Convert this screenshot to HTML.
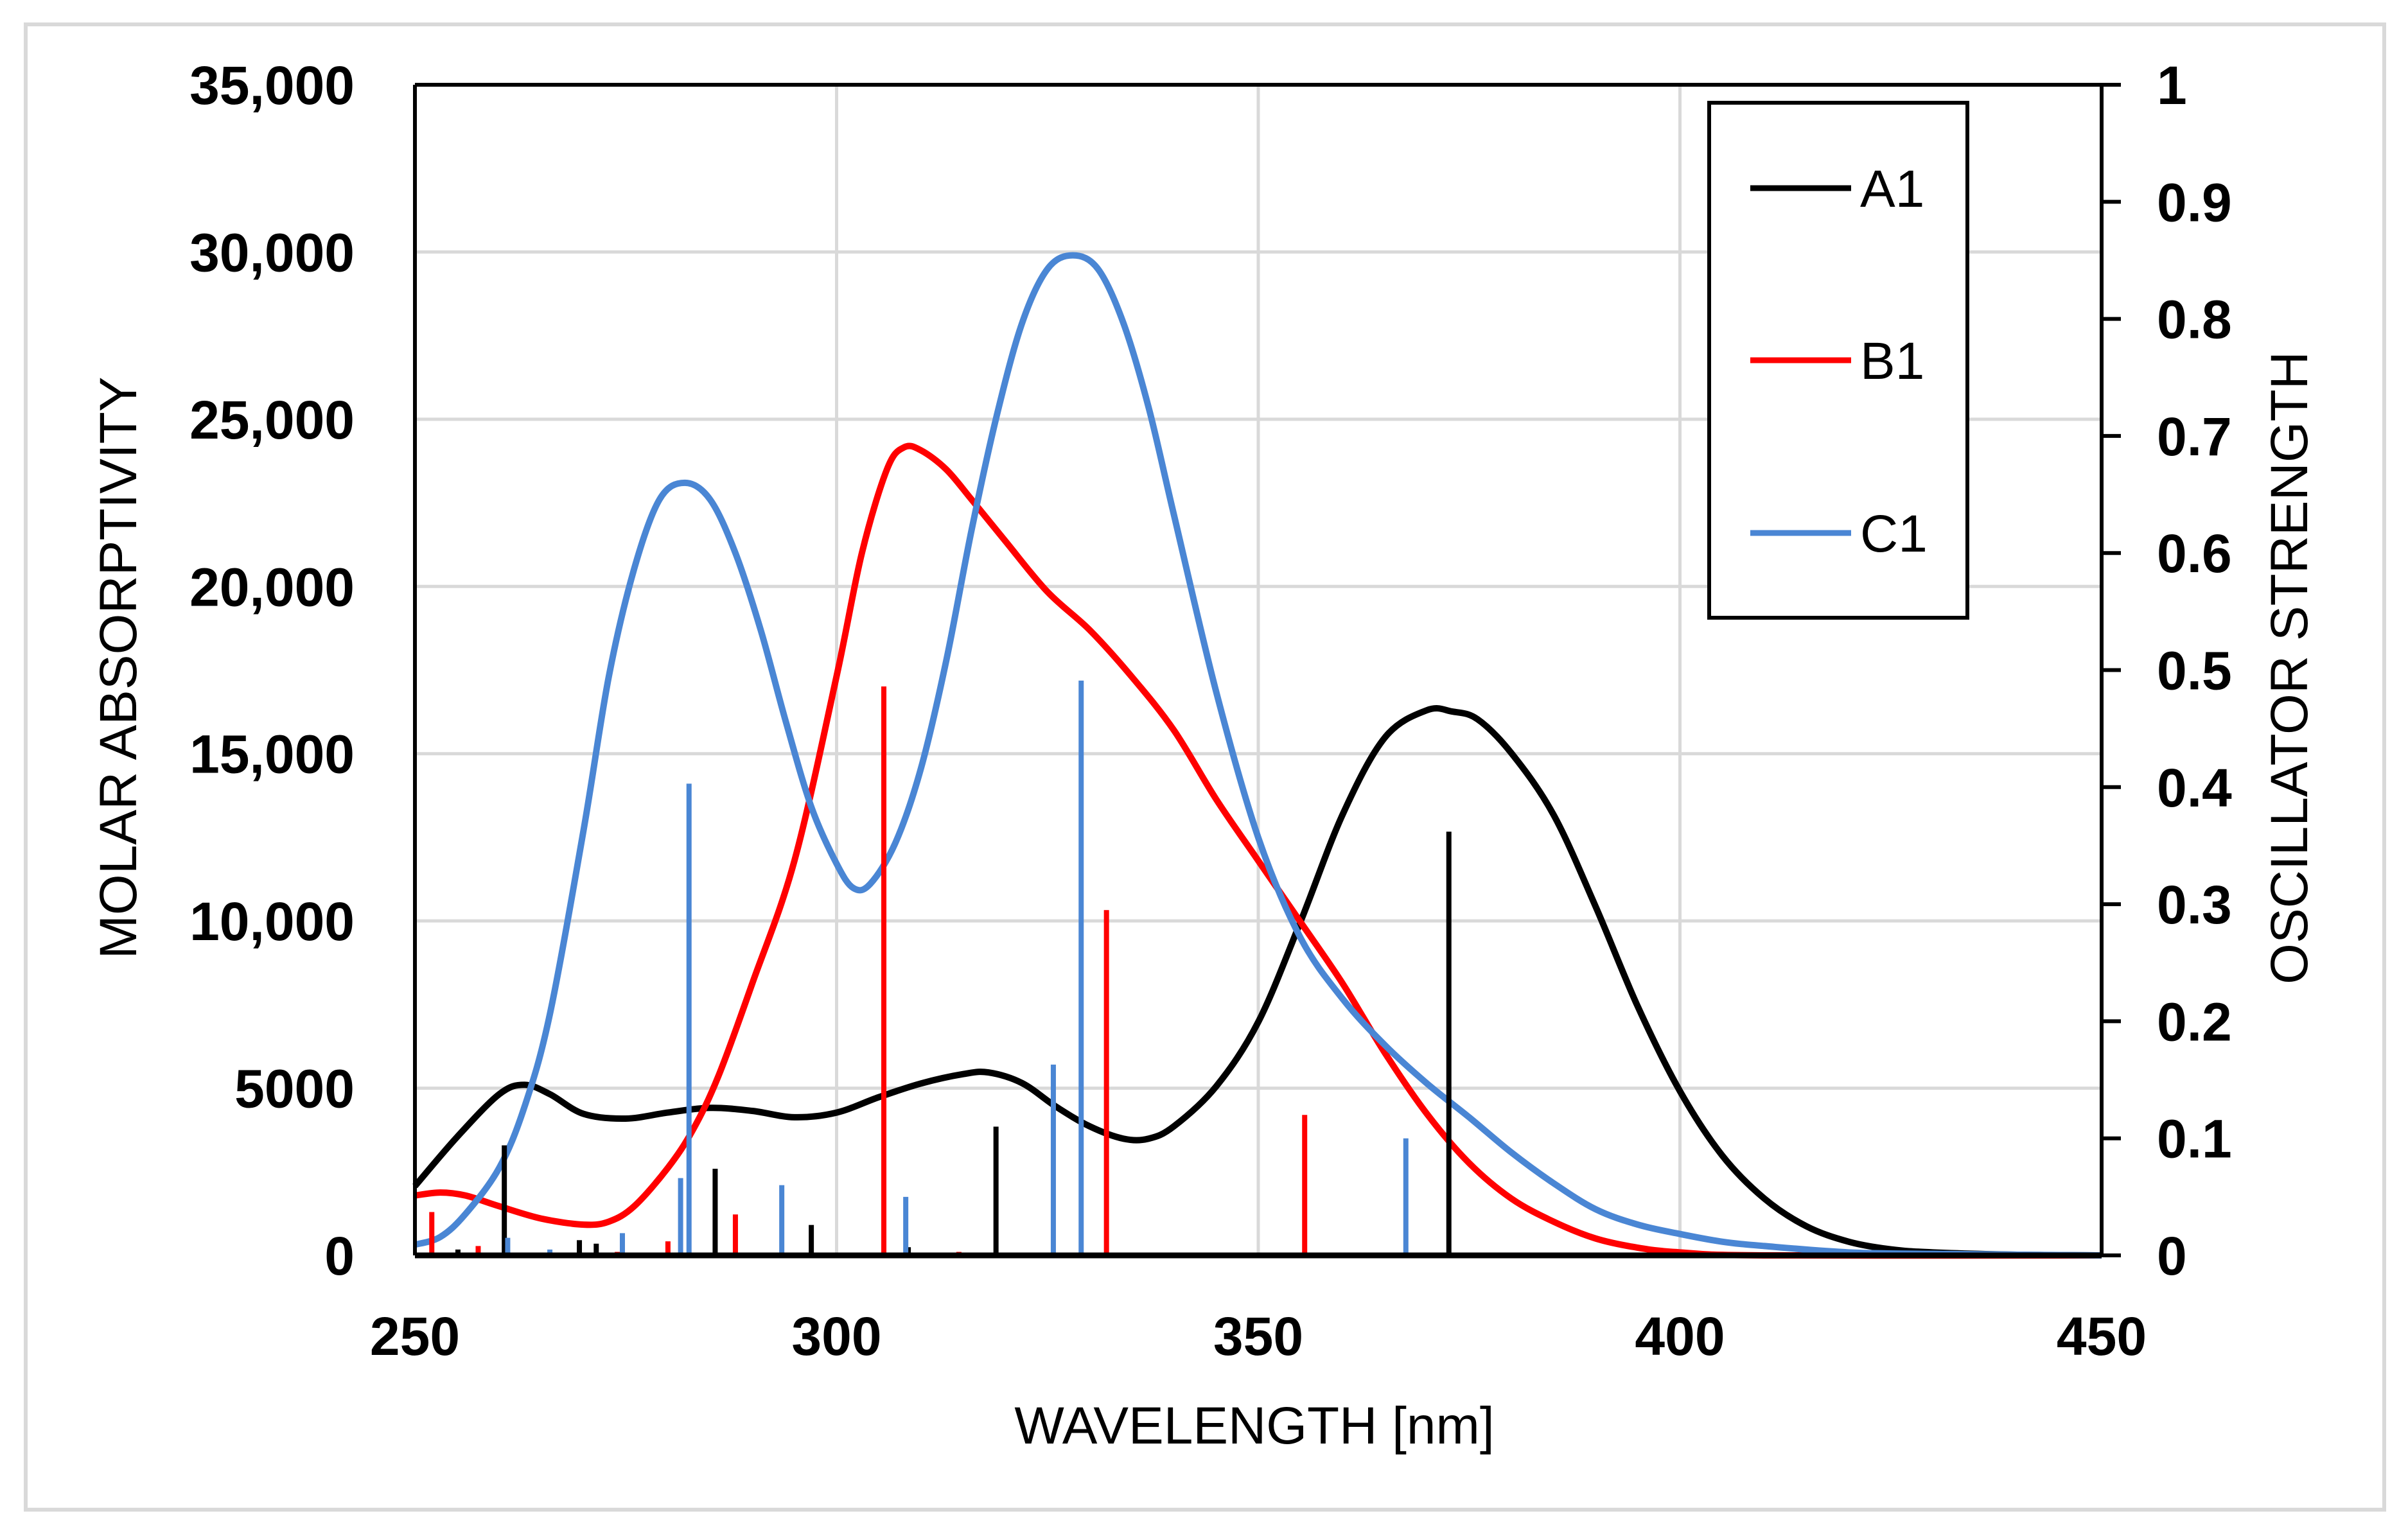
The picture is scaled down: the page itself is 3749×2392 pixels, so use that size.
<!DOCTYPE html>
<html><head><meta charset="utf-8"><style>
html,body{margin:0;padding:0;background:#fff}
svg{display:block}
text{font-family:"Liberation Sans",Arial,sans-serif;fill:#000}
</style></head><body>
<svg id="chart" width="3749" height="2392" viewBox="0 0 3749 2392" xmlns="http://www.w3.org/2000/svg">
<rect x="40" y="38" width="3672" height="2313" fill="#fff" stroke="#d9d9d9" stroke-width="6"/>
<g id="grid"></g>
<g id="curves"></g>
<g id="sticks"></g>
<g id="axes"></g>
<g id="labels"></g>
<text x="1953" y="2248" font-size="82" text-anchor="middle">WAVELENGTH [nm]</text>
<text transform="translate(212,1040) rotate(-90)" font-size="82" text-anchor="middle">MOLAR ABSORPTIVITY</text>
<text transform="translate(3592,1040) rotate(-90)" font-size="82" text-anchor="middle">OSCILLATOR STRENGTH</text>
<g>
<rect x="2661" y="160" width="402" height="802" fill="#fff" stroke="#000" stroke-width="6"/>
<line x1="2725" y1="293" x2="2882" y2="293" stroke="#000" stroke-width="9"/>
<text x="2896" y="322" font-size="82">A1</text>
<line x1="2725" y1="561" x2="2882" y2="561" stroke="#ff0000" stroke-width="9"/>
<text x="2896" y="590" font-size="82">B1</text>
<line x1="2725" y1="830" x2="2882" y2="830" stroke="#4a86d4" stroke-width="9"/>
<text x="2896" y="859" font-size="82">C1</text>
</g>
</svg>
<script>
const xTicks=[250,300,350,400,450];
const yTicks=[0,5000,10000,15000,20000,25000,30000,35000];
const yTickLabels=["0","5000","10,000","15,000","20,000","25,000","30,000","35,000"];
const y2Ticks=[0,0.1,0.2,0.3,0.4,0.5,0.6,0.7,0.8,0.9,1];
const y2TickLabels=["0","0.1","0.2","0.3","0.4","0.5","0.6","0.7","0.8","0.9","1"];

const a1X=[250,255,260,263,266,270,275,280,285,290,295,300,305,310,315,318,322,326,330,334,337,340,345,350,355,360,365,370,373,376,380,385,390,395,400,405,410,415,420,425,430,440,450];
const a1Y=[2070,3540,4820,5100,4820,4230,4090,4270,4410,4320,4130,4270,4730,5140,5420,5470,5150,4450,3860,3490,3490,3860,5050,6980,9970,13180,15480,16300,16260,16030,15020,13180,10430,7440,4910,2990,1700,870,410,180,90,20,0];
const b1X=[250,253,256,260,265,270,273,276,280,283,286,290,295,300,303,306,308,310,313,316,320,325,330,335,340,345,350,355,360,365,370,375,380,385,390,395,400,410,450];
const b1Y=[1790,1880,1790,1470,1100,920,1010,1470,2620,3770,5370,8130,11800,17320,21000,23520,24160,24070,23500,22600,21360,19840,18700,17300,15700,13640,11800,9970,8130,6060,4230,2760,1700,1010,505,230,90,0,0];
const c1X=[250,253,256,260,263,266,270,273,276,279,282,285,288,291,294,297,300,302,304,307,310,313,316,319,322,325,328,331,334,337,340,345,350,355,360,365,370,375,380,385,390,395,400,405,410,420,430,450];
const c1Y=[320,550,1240,2620,4450,7210,12720,17320,20530,22600,23100,22600,21000,18700,15940,13410,11710,10980,11110,12350,14560,17780,21680,25120,27880,29490,29900,29490,27880,25350,22140,16860,12490,9500,7670,6290,5140,4130,3080,2160,1380,920,640,410,280,90,45,0];

const a1StickX=[255.1,260.6,269.5,271.5,285.6,297,308.5,318.9,372.6];
const a1StickF=[0.005,0.094,0.013,0.01,0.074,0.026,0.007,0.11,0.362];
const b1StickX=[252,257.5,274,280,288,305.6,314.5,332,355.5];
const b1StickF=[0.037,0.008,0.003,0.012,0.035,0.486,0.003,0.295,0.12];
const c1StickX=[261,266,274.6,281.5,282.5,293.5,308.2,325.7,329,367.5];
const c1StickF=[0.015,0.005,0.019,0.066,0.403,0.06,0.05,0.163,0.491,0.1];

const L=646,R=3272,T=132,B=1955;
const sx=v=>L+(v-250)/200*(R-L);
const sy=v=>B-v/35000*(B-T);
const sy2=v=>B-v*(B-T);
const NS='http://www.w3.org/2000/svg';
function mk(tag,parent,attrs){const e=document.createElementNS(NS,tag);for(const k in attrs)e.setAttribute(k,attrs[k]);document.getElementById(parent).appendChild(e);return e;}

yTicks.forEach((v,i)=>{if(v===0||v===35000)return;
 const g=mk('line','grid',{x1:L,x2:R,y1:sy(v),y2:sy(v),stroke:'#d9d9d9','stroke-width':5});
 
 });
xTicks.forEach(v=>{if(v===250||v===450)return;
 const g=mk('line','grid',{x1:sx(v),x2:sx(v),y1:T,y2:B,stroke:'#d9d9d9','stroke-width':5});
 
 });

function pathFor(xs,ys){const p=xs.map((x,i)=>[sx(x),sy(ys[i])]);let d='M'+p[0][0]+','+p[0][1];
 for(let i=0;i<p.length-1;i++){const p0=p[i-1]||p[i],p1=p[i],p2=p[i+1],p3=p[i+2]||p2;
  const c1x=p1[0]+(p2[0]-p0[0])/6,c1y=p1[1]+(p2[1]-p0[1])/6,c2x=p2[0]-(p3[0]-p1[0])/6,c2y=p2[1]-(p3[1]-p1[1])/6;
  d+=' C'+c1x+','+c1y+' '+c2x+','+c2y+' '+p2[0]+','+p2[1];}return d;}
[[a1X,a1Y,'#000','curve-a1'],[b1X,b1Y,'#ff0000','curve-b1'],[c1X,c1Y,'#4a86d4','curve-c1']].forEach(s=>{
 const e=mk('path','curves',{d:pathFor(s[0],s[1]),fill:'none',stroke:s[2],'stroke-width':10,'stroke-linejoin':'round'});
 
 });
[[a1StickX,a1StickF,'#000','stick-a1'],[b1StickX,b1StickF,'#ff0000','stick-b1'],[c1StickX,c1StickF,'#4a86d4','stick-c1']].forEach(s=>{
 s[0].forEach((x,i)=>{const e=mk('line','sticks',{x1:sx(x),x2:sx(x),y1:B,y2:sy2(s[1][i]),stroke:s[2],'stroke-width':8});
  
  });});

const ax=[[L,T,L,B],[L,B,R,B],[L,T,R+30,T],[R,T,R,B]];
ax.forEach((a,i)=>{const e=mk('line','axes',{x1:a[0],y1:a[1],x2:a[2],y2:a[3],stroke:'#000','stroke-width':i===1?9:6});
 
 });
y2Ticks.forEach(v=>{const e=mk('line','axes',{x1:R,x2:R+30,y1:sy2(v),y2:sy2(v),stroke:'#000','stroke-width':6});
 
 });

yTicks.forEach((v,i)=>{const t=mk('text','labels',{x:552,y:sy(v)+30,'font-size':84,'font-weight':'bold','text-anchor':'end'});t.textContent=yTickLabels[i];
 
 });
y2Ticks.forEach((v,i)=>{const t=mk('text','labels',{x:3358,y:sy2(v)+30,'font-size':84,'font-weight':'bold'});t.textContent=y2TickLabels[i];
 
 });
xTicks.forEach(v=>{const t=mk('text','labels',{x:sx(v),y:2110,'font-size':84,'font-weight':'bold','text-anchor':'middle'});t.textContent=String(v);
 
 });
</script>
</body></html>
